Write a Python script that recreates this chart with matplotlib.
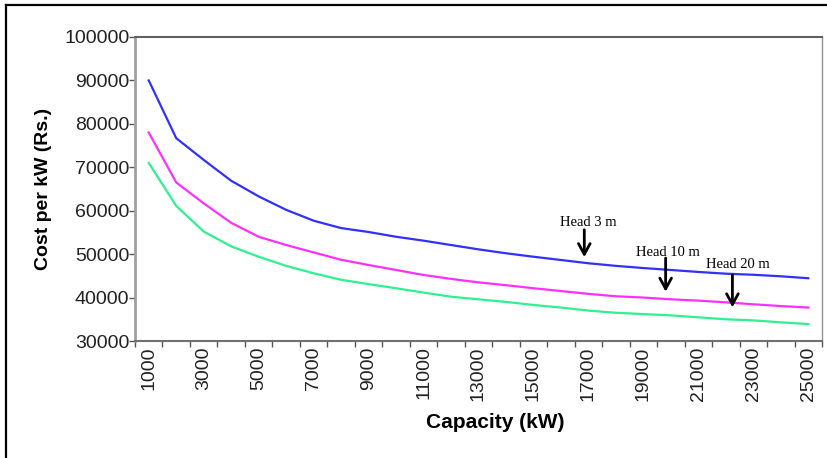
import matplotlib
matplotlib.use("Agg")
import matplotlib.pyplot as plt
from matplotlib.lines import Line2D

# ---- data ----
capacity = [1000, 2000, 3000, 4000, 5000, 6000, 7000, 8000, 9000, 10000,
            11000, 12000, 13000, 14000, 15000, 16000, 17000, 18000, 19000,
            20000, 21000, 22000, 23000, 24000, 25000]
head_3m = [90000, 76700, 71700, 66900, 63300, 60200, 57700, 56000, 55100, 54000,
           53100, 52100, 51100, 50200, 49400, 48650, 47900, 47300, 46800,
           46350, 45900, 45500, 45250, 44900, 44450]
head_10m = [78000, 66500, 61700, 57200, 54000, 52100, 50400, 48700, 47500, 46350,
            45200, 44300, 43500, 42850, 42150, 41500, 40850, 40300, 40000,
            39600, 39300, 38900, 38450, 38050, 37700]
head_20m = [71000, 61100, 55200, 51800, 49400, 47300, 45600, 44100, 43100, 42150,
            41150, 40200, 39600, 39000, 38300, 37700, 37000, 36500, 36200,
            35900, 35450, 35000, 34750, 34300, 33900]
series_labels = ["Head 3 m", "Head 10 m", "Head 20 m"]
y_ticks = [30000, 40000, 50000, 60000, 70000, 80000, 90000, 100000]

W, H = 827, 458
fig = plt.figure(figsize=(W / 100, H / 100), dpi=100)
ax = fig.add_axes([135 / W, (H - 341) / H, (822 - 135) / W, (341 - 37) / H])

idx = list(range(len(capacity)))
colors = ["#3030ff", "#ff30ff", "#30f090"]
for vals, c in zip([head_3m, head_10m, head_20m], colors):
    ax.plot(idx, vals, color=c, lw=1.6, solid_joinstyle="round")

ax.set_xlim(-0.5, len(capacity) - 0.5)
ax.set_ylim(30000, 100000)

tickfont = dict(family="Liberation Sans", size=14)
ax.set_yticks(y_ticks)
ax.set_yticklabels([str(v) for v in y_ticks], fontdict=tickfont, color="#222222")
ax.tick_params(axis="y", direction="out", length=4, width=1, color="#555555", pad=0)

ax.set_xticks(idx[::2])
ax.set_xticklabels([str(c) for c in capacity[::2]], fontdict=tickfont,
                   rotation=90, color="#222222")
ax.tick_params(axis="x", which="major", length=0, pad=4)
ax.set_xticks([i - 0.5 for i in range(len(capacity) + 1)], minor=True)
ax.tick_params(axis="x", which="minor", direction="out", length=4, width=1, color="#555555")

ax.spines["left"].set_color("#a0a0a0")
ax.spines["left"].set_linewidth(2)
ax.spines["bottom"].set_color("#707070")
ax.spines["bottom"].set_linewidth(1.5)
ax.spines["top"].set_color("#606060")
ax.spines["top"].set_linewidth(1.5)
ax.spines["right"].set_color("#909090")
ax.spines["right"].set_linewidth(1)

ax.set_ylabel("Cost per kW (Rs.)", family="Liberation Sans", size=14, weight="bold")
ax.yaxis.set_label_coords(-0.121, 0.5)
ax.set_xlabel("Capacity (kW)", family="Liberation Sans", size=15, weight="bold")
ax.xaxis.set_label_coords(0.524, -0.237)

# annotations (text position, arrow tail, arrow tip) in data coords
ann_text_pos = [(15.98, 57200), (18.88, 50450), (21.43, 47700)]
ann_tail = [(15.85, 55600), (18.81, 49100), (21.24, 45200)]
ann_tip = [(15.85, 49300), (18.81, 41350), (21.24, 37750)]
for lab, tp, tl, tip in zip(series_labels, ann_text_pos, ann_tail, ann_tip):
    ax.text(tp[0], tp[1], lab, family="Liberation Serif", fontsize=10.5,
            ha="center", va="center", color="black")
    ax.annotate("", xy=tip, xytext=tl,
                arrowprops=dict(arrowstyle="->,head_length=0.55,head_width=0.3",
                                lw=2, color="black", shrinkA=0, shrinkB=0,
                                mutation_scale=14))

# outer frame lines (top and left)
fig.add_artist(Line2D([6 / W, 1.0], [1 - 5 / H, 1 - 5 / H], color="black", lw=1.6,
                      transform=fig.transFigure))
fig.add_artist(Line2D([6 / W, 6 / W], [0.0, 1 - 5 / H], color="black", lw=1.6,
                      transform=fig.transFigure))

fig.savefig("out.png", dpi=100)
